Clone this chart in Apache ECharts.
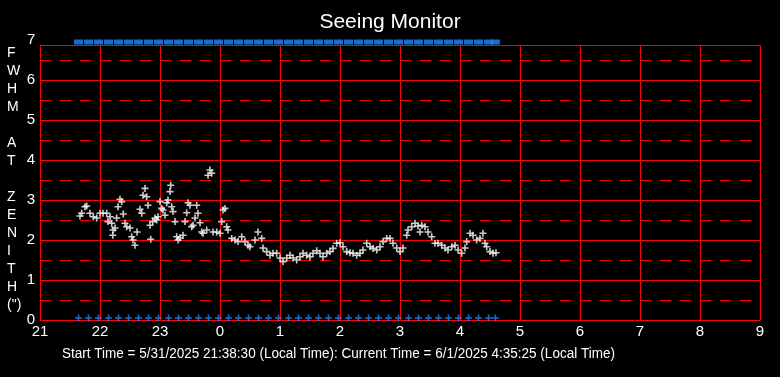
<!DOCTYPE html>
<html>
<head>
<meta charset="utf-8">
<title>Seeing Monitor</title>
<script src="https://cdn.jsdelivr.net/npm/echarts@6/dist/echarts.min.js"></script>
<style>html,body{margin:0;padding:0;background:#000;}</style>
</head>
<body>
<div id="main" style="width:780px;height:377px;"></div>
<script>
// hours since midnight of 5/31 (24 = 0 on 6/1)
var fwhmTimes = [
  21.667,21.695,21.75,21.778,21.833,21.888,21.945,22.0,22.05,22.112,22.133,22.167,22.195,22.212,22.217,22.25,
  22.278,22.3,22.333,22.362,22.388,22.417,22.445,22.5,22.528,22.55,22.583,22.617,22.667,22.695,22.717,22.75,
  22.778,22.8,22.833,22.845,22.878,22.917,22.945,22.967,23.0,23.028,23.05,23.083,23.112,23.133,23.167,23.178,
  23.195,23.217,23.25,23.278,23.3,23.333,23.383,23.417,23.445,23.467,23.5,23.528,23.55,23.583,23.612,23.633,
  23.667,23.695,23.717,23.778,23.8,23.833,23.862,23.883,23.945,24.0,24.028,24.05,24.083,24.112,24.133,24.195,
  24.25,24.3,24.362,24.417,24.467,24.5,24.583,24.633,24.695,24.717,24.778,24.833,24.883,24.945,25.0,25.05,
  25.112,25.167,25.217,25.278,25.333,25.383,25.445,25.5,25.55,25.612,25.667,25.717,25.778,25.833,25.883,25.945,
  26.0,26.05,26.112,26.167,26.217,26.278,26.333,26.383,26.445,26.5,26.55,26.612,26.667,26.717,26.778,26.833,
  26.883,26.945,27.0,27.05,27.112,27.133,27.195,27.25,27.3,27.333,27.362,27.417,27.467,27.528,27.583,27.633,
  27.695,27.75,27.8,27.862,27.917,27.967,28.028,28.083,28.112,28.167,28.217,28.278,28.333,28.383,28.417,28.445,
  28.5,28.55,28.6
];
var fwhmValues = [
  2.6,2.67,2.83,2.85,2.67,2.58,2.55,2.67,2.67,2.67,2.46,2.58,2.42,2.12,2.25,2.3,
  2.55,2.83,3.02,2.96,2.65,2.42,2.33,2.3,2.08,2.0,1.87,2.2,2.77,2.67,3.12,3.29,
  3.08,2.87,2.37,2.02,2.46,2.55,2.5,2.58,2.96,2.79,2.75,2.62,2.93,3.0,3.21,3.37,
  2.83,2.71,2.46,2.08,2.0,2.05,2.12,2.46,2.68,2.93,2.87,2.33,2.37,2.55,2.87,2.67,
  2.43,2.2,2.17,2.25,3.62,3.75,3.67,2.2,2.2,2.17,2.46,2.75,2.79,2.33,2.25,2.04,
  2.0,1.96,2.08,1.96,1.87,1.83,2.0,2.2,2.04,1.8,1.71,1.62,1.67,1.67,1.55,1.46,
  1.55,1.62,1.55,1.5,1.58,1.67,1.62,1.58,1.67,1.73,1.67,1.58,1.67,1.71,1.79,1.92,
  1.93,1.83,1.71,1.68,1.67,1.62,1.67,1.75,1.92,1.83,1.79,1.75,1.83,1.96,2.04,2.04,
  1.92,1.8,1.71,1.8,2.12,2.25,2.33,2.42,2.35,2.2,2.37,2.33,2.2,2.08,1.92,1.92,
  1.87,1.8,1.75,1.83,1.87,1.75,1.67,1.8,1.96,2.17,2.12,2.0,2.04,2.17,1.92,1.83,
  1.71,1.67,1.68
];
// blue status marks, every ~10 minutes from start time
var markTimes = [
  21.642,21.808,21.975,22.142,22.308,22.475,22.642,22.808,22.975,23.142,23.308,23.475,23.642,23.808,
  23.975,24.142,24.308,24.475,24.642,24.808,24.975,25.142,25.308,25.475,25.642,25.808,25.975,26.142,
  26.308,26.475,26.642,26.808,26.975,27.142,27.308,27.475,27.642,27.808,27.975,28.142,28.308,28.475,28.59
];
var topLevel = 6.95;
var bottomLevel = 0.05;
var hourLabels = ['21','22','23','0','1','2','3','4','5','6','7','8','9'];
var yAxisTitle = ['F','W','H','M','','A','T','','Z','E','N','I','T','H','(")'];
var footer = 'Start Time = 5/31/2025 21:38:30 (Local Time): Current Time = 6/1/2025 4:35:25 (Local Time)';

var plusPath = 'path://M2.7,0h1.6v7h-1.6z M0,2.7h7v1.6h-7z';

var chart = echarts.init(document.getElementById('main'));

var option = {
  backgroundColor: '#000',
  animation: false,
  title: {
    text: 'Seeing Monitor',
    left: 'center',
    top: 7,
    textStyle: {color: '#fff', fontSize: 21, fontWeight: 'normal', fontFamily: 'Liberation Sans'}
  },
  grid: {left: 40, right: 20, top: 45, bottom: 57},
  xAxis: {
    type: 'value',
    min: 21, max: 33, interval: 1,
    axisLine: {show: true, lineStyle: {color: '#ff0000', width: 1}},
    axisTick: {show: false},
    axisLabel: {
      color: '#fff', fontSize: 15, fontFamily: 'Liberation Sans', margin: 4,
      formatter: function (v) { return hourLabels[Math.round(v - 21)]; }
    },
    splitLine: {show: true, lineStyle: {color: '#ff0000', width: 1}}
  },
  yAxis: {
    type: 'value',
    min: 0, max: 6.875, interval: 1,
    axisLine: {show: true, lineStyle: {color: '#ff0000', width: 1}},
    axisTick: {show: false},
    axisLabel: {
      color: '#fff', fontSize: 15, fontFamily: 'Liberation Sans', margin: 5,
      formatter: function (v) { return v % 1 === 0 ? String(v) : ''; }
    },
    splitLine: {show: true, lineStyle: {color: '#ff0000', width: 1}},
    minorTick: {show: false, splitNumber: 2},
    minorSplitLine: {show: true, lineStyle: {color: '#ff0000', width: 1, type: [11, 9]}}
  },
  graphic: [
    {type: 'text', left: 27, top: 32, style: {text: '7', fill: '#fff', font: '15px "Liberation Sans"'}},
    {type: 'text', left: 7, top: 44, style: {text: yAxisTitle.join('\n'), fill: '#fff', font: '14px "Liberation Sans"', lineHeight: 18}},
    {type: 'text', x: 62, y: 347, scaleX: 0.965, style: {text: footer, fill: '#fff', font: '14px "Liberation Sans"'}}
  ],
  series: [
    {
      type: 'scatter',
      data: fwhmTimes.map(function (t, i) { return [t, fwhmValues[i]]; }),
      symbol: plusPath,
      symbolSize: 7,
      itemStyle: {color: '#fff'},
      z: 3
    },
    {
      type: 'scatter',
      clip: false,
      data: markTimes.map(function (t) { return [t, topLevel]; }),
      symbol: 'rect',
      symbolSize: [9, 5],
      itemStyle: {color: '#1e88ff'},
      z: 4
    },
    {
      type: 'scatter',
      clip: false,
      data: markTimes.map(function (t) { return [t, bottomLevel]; }),
      symbol: plusPath,
      symbolSize: 7,
      itemStyle: {color: '#1e88ff'},
      z: 4
    }
  ]
};

chart.setOption(option);
</script>
</body>
</html>
